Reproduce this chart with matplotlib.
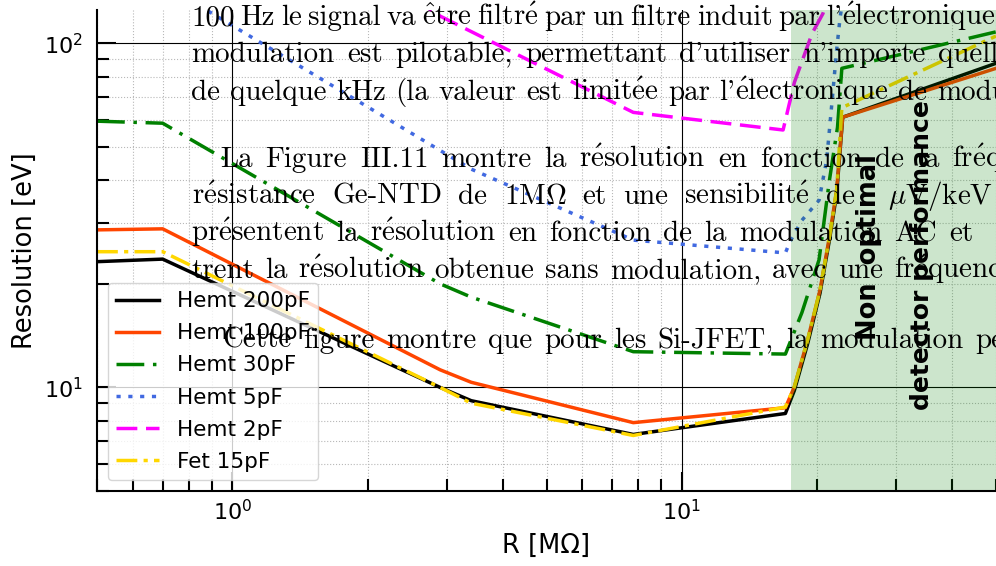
import matplotlib
matplotlib.use('Agg')
import matplotlib.pyplot as plt
import matplotlib.transforms as mtransforms
from matplotlib.ticker import NullFormatter

# resolution vs resistance
r_200 = [0.5, 0.7, 2.9, 3.4, 7.8, 17.0, 17.8, 19.05, 20.3, 21.3, 22.1, 22.8, 50]
res_200 = [23.2, 23.6, 10.0, 9.15, 7.3, 8.4, 9.8, 13.4, 18.8, 26.8, 36.5, 61, 87.5]

r_100 = [0.5, 0.7, 2.9, 3.4, 7.8, 17.0, 17.8, 19.05, 20.3, 21.3, 22.1, 22.8, 50]
res_100 = [28.7, 28.9, 11.25, 10.35, 7.9, 8.73, 10.05, 13.75, 19.2, 27.4, 37.4, 61, 84.6]

r_30 = [0.5, 0.7, 2.9, 3.4, 7.8, 17.0, 18.5, 20.2, 21.3, 22.2, 22.7, 50]
res_30 = [59.4, 58.6, 20.0, 18.3, 12.7, 12.5, 16.5, 23.5, 40, 57, 84.6, 108]

r_5 = [0.5, 0.7, 3.4, 7.8, 17.0, 17.4, 18.5, 20.2, 21.0, 21.6, 22.1, 22.5, 23.5]
res_5 = [150, 149, 43.1, 26.8, 24.6, 26.5, 30.6, 35, 45.8, 68.3, 95.5, 119, 170]

r_2 = [0.5, 0.7, 2.9, 7.8, 16.8, 17.8, 19.5, 20.6, 22]
res_2 = [420, 410, 120, 63, 56, 77, 107, 122, 160]

r_fet = [0.5, 0.7, 2.9, 3.4, 7.8, 17.0, 17.8, 19.05, 20.3, 21.3, 22.1, 22.7, 50]
res_fet = [24.8, 24.8, 10.0, 9.0, 7.25, 8.77, 10.05, 13.75, 19.2, 27.4, 37.4, 65, 105]

# page text that sits over the chart (one list of words per line)
line1 = ["100", "Hz", "le", "signal", "va", r"$\mathrm{\hat{e}tre}$", r"$\mathrm{filtr\acute{e}}$",
         "par", "un", "filtre", "induit", "par", r"l'|$\mathrm{\acute{e}lectronique}$"]
line2 = ["modulation", "est", "pilotable,", "permettant", "d'utiliser", "n'importe", "quelle"]
line3 = ["de", "quelque", "kHz", "(la", "valeur", "est", r"$\mathrm{limit\acute{e}e}$", "par",
         r"l'|$\mathrm{\acute{e}lectronique}$", "de", "modulation"]
line4 = ["La", "Figure", "III.11", "montre", "la", r"$\mathrm{r\acute{e}solution}$", "en",
         "fonction", "de", "la", r"$\mathrm{fr\acute{e}quence}$"]
line5 = [r"$\mathrm{r\acute{e}sistance}$", "Ge-NTD", "de", r"$1\mathrm{M}\Omega$", "et", "une",
         r"$\mathrm{sensibilit\acute{e}}$", "de", "", r"$\mu\mathrm{V/keV}$"]
line6 = [r"$\mathrm{pr\acute{e}sentent}$", "la", r"$\mathrm{r\acute{e}solution}$", "en", "fonction",
         "de", "la", "modulation", "AC", "et"]
line7 = ["trent", "la", r"$\mathrm{r\acute{e}solution}$", "obtenue", "sans", "modulation,", "avec",
         "une", r"$\mathrm{fr\acute{e}quence}$"]
line8 = ["Cette", "figure", "montre", "que", "pour", "les", "Si-JFET,", "la", "modulation", "permet"]

W, H = 996, 566
fig = plt.figure(figsize=(W / 100, H / 100), dpi=100)
ax = fig.add_axes([97 / W, 75 / H, 899 / W, 481 / H])

lw = 2.5
ax.plot(r_200, res_200, color='black', lw=lw, label='Hemt 200pF')
ax.plot(r_100, res_100, color='orangered', lw=lw, label='Hemt 100pF')
ax.plot(r_30, res_30, color='green', lw=lw, dashes=(8, 2.5, 1, 2.5), label='Hemt 30pF')
ax.plot(r_5, res_5, color='royalblue', lw=lw, dashes=(1.2, 2.2), label='Hemt 5pF')
ax.plot(r_2, res_2, color='magenta', lw=lw, dashes=(6, 2.5), label='Hemt 2pF')
ax.plot(r_fet, res_fet, color='gold', lw=lw, dashes=(6, 1.8, 1.2, 1.8), label='Fet 15pF')

ax.set_xscale('log')
ax.set_yscale('log')
ax.set_xlim(0.5, 50)
ax.set_ylim(5, 125)

ax.axvspan(17.5, 60, color='green', alpha=0.2, lw=0, zorder=2.5)

ax.grid(True, which='major', color='black', lw=0.8, ls='-')
ax.grid(True, which='minor', color='0.72', lw=0.8, ls=':')

for s in ['top', 'right']:
    ax.spines[s].set_visible(False)
for s in ['left', 'bottom']:
    ax.spines[s].set_linewidth(1.5)
ax.tick_params(which='both', direction='in', top=False, right=False, width=1.5, labelsize=16)
ax.tick_params(which='major', length=14)
ax.tick_params(which='minor', length=8.5)
ax.tick_params(axis='x', pad=6)
ax.tick_params(axis='y', pad=10)
ax.xaxis.set_minor_formatter(NullFormatter())
ax.yaxis.set_minor_formatter(NullFormatter())

ax.set_xlabel('R [MΩ]', fontsize=18.5)
ax.set_ylabel('Resolution [eV]', fontsize=18.5)
ax.xaxis.set_label_coords(0.5, -0.087)
ax.yaxis.set_label_coords(-0.066, 0.5)

ax.legend(loc='lower left', fontsize=15.5, labelspacing=0.56, framealpha=0.8, borderaxespad=0.5)

ax.text(0.859, 0.508, 'Non  optimal', rotation=90, transform=ax.transAxes, ha='center',
        va='center', fontsize=18.5, fontweight='bold', zorder=6)
ax.text(0.918, 0.491, 'detector performance', rotation=90, transform=ax.transAxes, ha='center',
        va='center', fontsize=18, fontweight='bold', zorder=6)

# justified page text, laid out word by word in pixel coordinates
FS = 20.9
ident = mtransforms.IdentityTransform()
renderer = fig.canvas.get_renderer()


def text_line(y_img, x0, tokens, anchor, anchor_x):
    y = H - y_img
    groups = []
    for tok in tokens:
        parts = [fig.text(0, y, p, fontsize=FS, family='cmr10', math_fontfamily='cm',
                          va='baseline', ha='left', transform=ident, zorder=10)
                 for p in tok.split('|')]
        groups.append(parts)
    widths = [[t.get_window_extent(renderer).width if t.get_text() else 0 for t in g] for g in groups]
    used = sum(sum(w) for w in widths[:anchor])
    space = (anchor_x - x0 - used) / anchor
    x = x0
    for g, ws in zip(groups, widths):
        for t, w in zip(g, ws):
            t.set_x(x)
            x += w
        x += space


text_line(25, 191, line1, 12, 826)
text_line(62.5, 191, line2, 6, 938)
text_line(100, 191, line3, 10, 937)
text_line(167, 220, line4, 10, 952)
text_line(204, 192, line5, 7, 826)
text_line(241, 191, line6, 9, 949)
text_line(278, 191, line7, 8, 894)
text_line(348, 222, line8, 9, 975)

fig.savefig('out.png', dpi=100)
